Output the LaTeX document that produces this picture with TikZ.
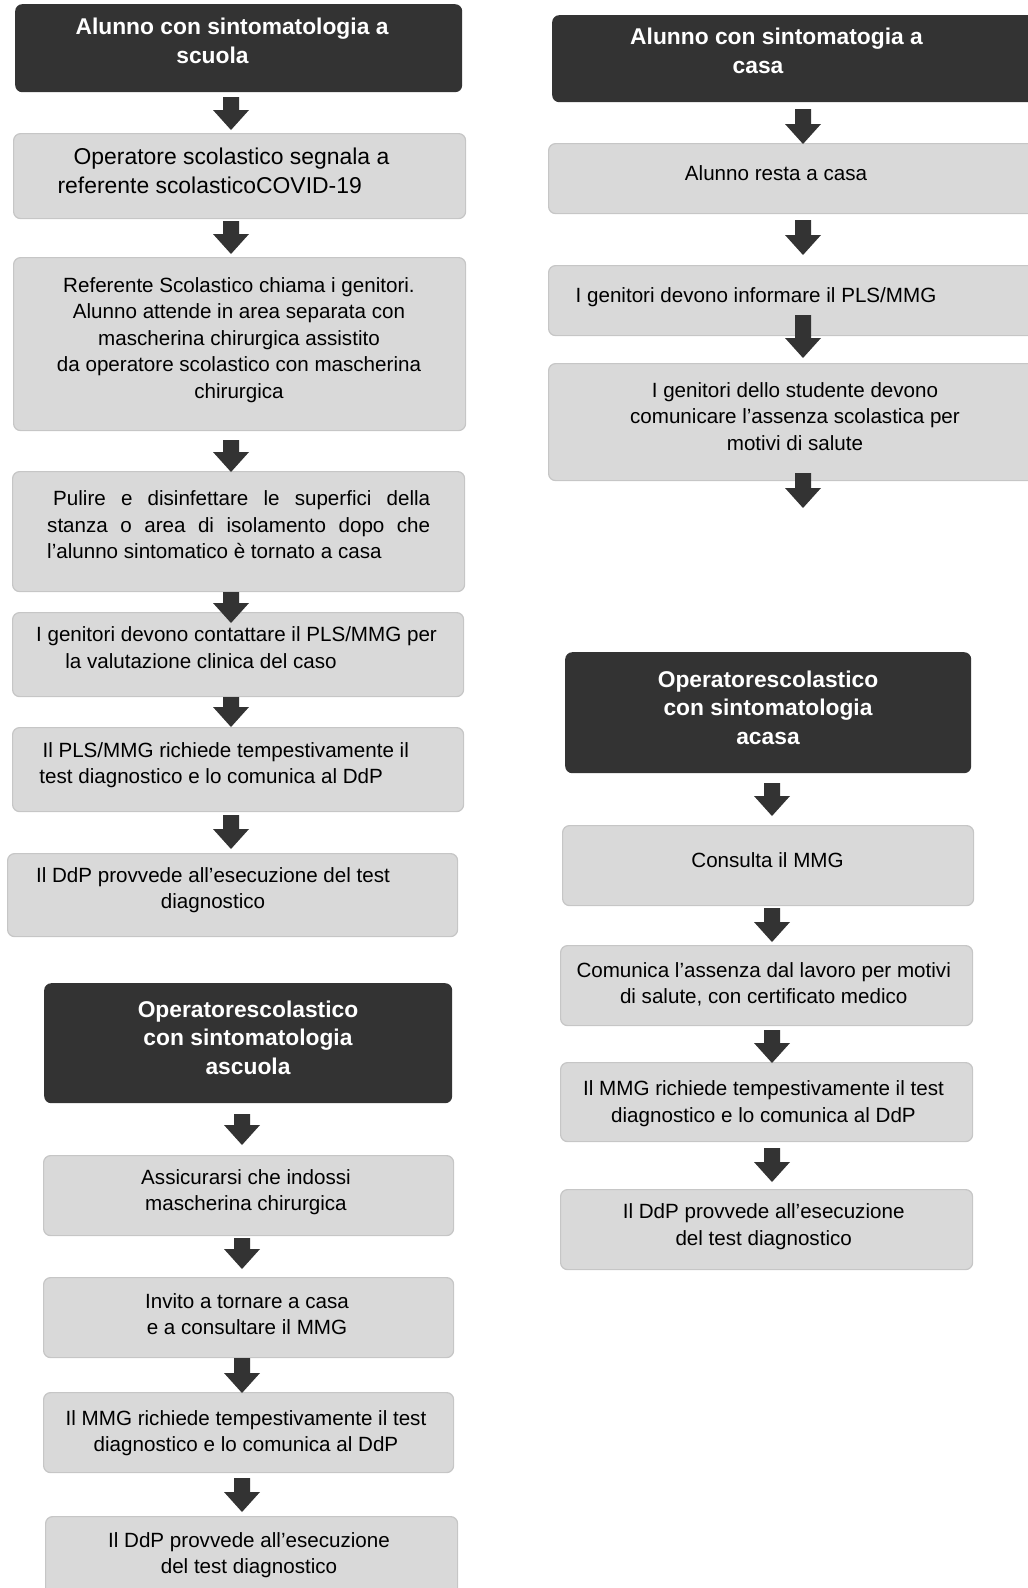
\documentclass[tikz,border=0pt]{standalone}
\usepackage{fontspec}
\setmainfont{Liberation Sans}
\definecolor{boxfill}{RGB}{217,217,217}
\definecolor{boxline}{RGB}{198,198,198}
\definecolor{darkfill}{RGB}{51,51,51}
\definecolor{arrowfill}{RGB}{51,51,51}
\newcommand{\blkarrow}[3]{%
  \fill[arrowfill] (#1-8,#2) -- (#1+8,#2) -- (#1+8,#3-20) -- (#1+18,#3-20) -- (#1,#3) -- (#1-18,#3-20) -- (#1-8,#3-20) -- cycle;}
\tikzset{
  lbox/.style={draw=boxline, fill=boxfill, line width=1.2pt, rounded corners=7pt, inner sep=0pt, anchor=north west},
  dbox/.style={fill=darkfill, rounded corners=7pt, inner sep=0pt, anchor=north west},
  btxt/.style={inner sep=0pt, align=center, anchor=north, font=\fontsize{20.6pt}{26.6pt}\selectfont},
  bigtxt/.style={btxt, font=\fontsize{22.9pt}{29.4pt}\selectfont},
  htxt/.style={inner sep=0pt, align=center, anchor=north, text=white, font=\fontsize{22.8pt}{28.7pt}\selectfont\bfseries},
}
\begin{document}
\begin{tikzpicture}[x=1pt,y=-1pt]
\useasboundingbox (0,0) rectangle (1028,1588);
% ---------- left column boxes
\node[dbox, minimum width=447pt, minimum height=88pt] (L1) at (15,4) {};
\node[lbox, minimum width=452pt, minimum height=85pt] (L2) at (13,133) {};
\node[lbox, minimum width=452pt, minimum height=173pt] (L3) at (13,257) {};
\node[lbox, minimum width=452pt, minimum height=120pt] (L4) at (12,471) {};
\node[lbox, minimum width=451pt, minimum height=84pt] (L5) at (12,612) {};
\node[lbox, minimum width=451pt, minimum height=84pt] (L6) at (12,727) {};
\node[lbox, minimum width=450pt, minimum height=83pt] (L7) at (7,853) {};
\node[dbox, minimum width=408pt, minimum height=120pt] (L8) at (44,983) {};
\node[lbox, minimum width=410pt, minimum height=80pt] (L9) at (43,1155) {};
\node[lbox, minimum width=410pt, minimum height=80pt] (L10) at (43,1277) {};
\node[lbox, minimum width=410pt, minimum height=80pt] (L11) at (43,1392) {};
\node[lbox, minimum width=412pt, minimum height=90pt] (L12) at (45,1516) {};
% ---------- right column boxes
\node[dbox, minimum width=490pt, minimum height=87pt] (R1) at (552,15) {};
\node[lbox, minimum width=494pt, minimum height=70pt] (R2) at (548,143) {};
\node[lbox, minimum width=494pt, minimum height=70pt] (R3) at (548,265) {};
\node[lbox, minimum width=494pt, minimum height=117pt] (R4) at (548,363) {};
\node[dbox, minimum width=406pt, minimum height=121pt] (R5) at (565,652) {};
\node[lbox, minimum width=411pt, minimum height=80pt] (R6) at (562,825) {};
\node[lbox, minimum width=412pt, minimum height=80pt] (R7) at (560,945) {};
\node[lbox, minimum width=412pt, minimum height=79pt] (R8) at (560,1062) {};
\node[lbox, minimum width=412pt, minimum height=80pt] (R9) at (560,1189) {};
% ---------- texts left
\node[htxt] (t1) at (232,18.2) {Alunno con sintomatologia a\\scuola\hspace*{39pt}};
\node[bigtxt] (t2) at (231.5,147.6) {Operatore scolastico segnala a\\referente scolasticoCOVID-19\hspace*{43.6pt}};
\node[btxt] (t3) at (239,277) {Referente Scolastico chiama i genitori.\\Alunno attende in area separata con\\mascherina chirurgica assistito\\da operatore scolastico con mascherina\\chirurgica};
\node[btxt, align=left, anchor=north west] (t4) at (47,490.3) {\hspace*{6pt}\makebox[377pt][s]{Pulire e disinfettare le superfici della}\\\makebox[383pt][s]{stanza o area di isolamento dopo che}\\l’alunno sintomatico è tornato a casa};
\node[btxt] (t5) at (236.5,626.3) {I genitori devono contattare il PLS/MMG per\\la valutazione clinica del caso\hspace*{71pt}};
\node[btxt] (t6) at (225.7,742) {Il PLS/MMG richiede tempestivamente il\\test diagnostico e lo comunica al DdP\hspace*{29pt}};
\node[btxt] (t7) at (213,867) {Il DdP provvede all’esecuzione del test\\diagnostico};
\node[htxt] (t8) at (248,1000.4) {Operatorescolastico\\con sintomatologia\\ascuola};
\node[btxt] (t9) at (246,1169) {Assicurarsi che indossi\\mascherina chirurgica};
\node[btxt] (t10) at (247,1293.2) {Invito a tornare a casa\\e a consultare il MMG};
\node[btxt] (t11) at (246,1410.2) {Il MMG richiede tempestivamente il test\\diagnostico e lo comunica al DdP};
\node[btxt] (t12) at (249,1532) {Il DdP provvede all’esecuzione\\del test diagnostico};
% ---------- texts right
\node[htxt] (u1) at (776.5,28.2) {Alunno con sintomatogia a\\casa\hspace*{37pt}};
\node[btxt] (u2) at (776,165.3) {Alunno resta a casa};
\node[btxt] (u3) at (756,287) {I genitori devono informare il PLS/MMG};
\node[btxt] (u4) at (795,382) {I genitori dello studente devono\\comunicare l’assenza scolastica per\\motivi di salute};
\node[htxt] (u5) at (768,670.4) {Operatorescolastico\\con sintomatologia\\acasa};
\node[btxt] (u6) at (767.5,852) {Consulta il MMG};
\node[btxt] (u7) at (763.7,962) {Comunica l’assenza dal lavoro per motivi\\di salute, con certificato medico};
\node[btxt] (u8) at (763.5,1080.3) {Il MMG richiede tempestivamente il test\\diagnostico e lo comunica al DdP};
\node[btxt] (u9) at (763.7,1203.6) {Il DdP provvede all’esecuzione\\del test diagnostico};
% ---------- block arrows
\blkarrow{231}{97}{130}
\blkarrow{231}{221}{254}
\blkarrow{231}{440}{472}
\blkarrow{231}{592}{623}
\blkarrow{231}{697}{727}
\blkarrow{231}{815}{849}
\blkarrow{242}{1114}{1145}
\blkarrow{242}{1238}{1269}
\blkarrow{242}{1358}{1393}
\blkarrow{242}{1478}{1512}
\blkarrow{803}{109}{144}
\blkarrow{803}{220}{255}
\blkarrow{803}{315}{358}
\blkarrow{803}{473}{508}
\blkarrow{772}{783}{816}
\blkarrow{772}{908}{942}
\blkarrow{772}{1030}{1063}
\blkarrow{772}{1148}{1182}
\end{tikzpicture}
\end{document}
